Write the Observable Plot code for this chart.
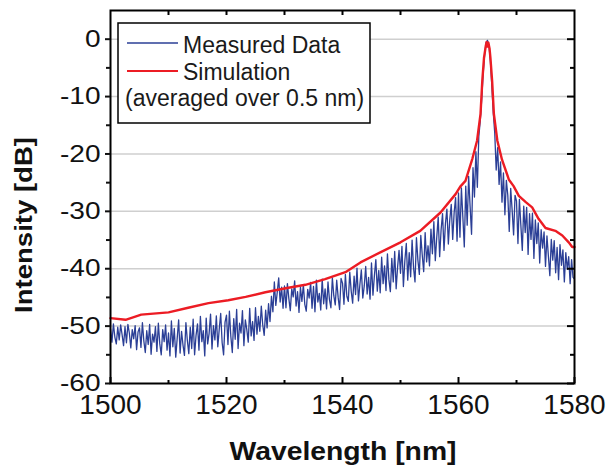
<!DOCTYPE html>
<html><head><meta charset="utf-8">
<script src="https://cdn.jsdelivr.net/npm/d3@7"></script>
<script src="https://cdn.jsdelivr.net/npm/@observablehq/plot@0.6"></script>
<style>body{margin:0;background:#fff} #chart svg{display:block}</style>
</head><body><div id="chart"></div>
<script>
// Measured spectrum, sampled every 0.25 nm starting at 1500 nm
const measStart = 1500, measStep = 0.25;
const measuredDb = [
 -50.5,-52.8,-49.6,-51.9,-53.1,-50.2,-52.4,-49.8,-51.5,-53.4,-50.1,-52.9,-49.7,-51.2,-53.8,-50.6,-52.2,-49.9,-54.1,-51.0,
 -50.3,-53.7,-49.4,-52.6,-54.6,-50.8,-53.2,-49.7,-54.9,-51.4,-52.8,-50.1,-54.4,-49.5,-53.1,-55.0,-50.6,-52.7,-49.8,-54.2,
 -51.2,-55.2,-49.1,-53.6,-50.4,-55.4,-52.1,-48.9,-54.7,-50.9,-53.3,-55.1,-49.4,-52.5,-54.8,-50.2,-53.9,-48.8,-55.0,-51.6,
 -49.6,-54.2,-48.3,-52.7,-50.8,-55.2,-48.6,-53.1,-51.3,-47.9,-54.0,-49.9,-52.4,-48.2,-53.6,-50.5,-47.8,-52.9,-55.0,-49.3,
 -48.1,-53.2,-47.4,-51.8,-54.6,-48.7,-52.3,-47.1,-53.9,-49.5,-51.2,-47.3,-53.4,-48.9,-50.6,-52.8,-46.9,-51.7,-49.2,-52.5,
 -46.8,-51.4,-48.3,-50.9,-46.5,-49.8,-51.6,-47.2,-50.3,-46.1,-49.2,-44.8,-47.5,-42.3,-46.4,-44.1,-41.6,-45.8,-43.2,-46.9,
 -43.0,-46.8,-42.6,-45.2,-47.3,-43.5,-44.9,-42.1,-46.5,-44.0,-47.6,-43.2,-45.7,-42.8,-46.2,-47.4,-43.6,-45.1,-42.4,-46.9,
 -43.1,-47.5,-42.0,-45.8,-44.3,-47.2,-41.8,-46.1,-43.5,-47.0,-42.3,-45.4,-46.8,-41.6,-44.7,-46.3,-42.0,-45.0,-47.1,-41.7,
 -42.5,-46.2,-41.0,-44.8,-45.7,-40.6,-43.9,-46.0,-41.3,-44.5,-39.9,-45.6,-42.7,-40.2,-45.1,-43.0,-39.6,-44.4,-41.5,-45.3,
 -39.0,-44.6,-41.2,-38.4,-43.9,-40.3,-44.2,-38.0,-42.6,-39.5,-43.8,-37.4,-41.9,-44.0,-38.2,-42.3,-37.0,-43.5,-39.7,-36.8,
 -40.8,-36.1,-43.1,-38.6,-35.6,-42.0,-37.2,-41.4,-35.0,-39.8,-42.3,-34.6,-38.5,-41.0,-34.2,-37.6,-40.5,-33.7,-38.8,-36.0,
 -39.5,-33.1,-37.4,-31.8,-38.6,-34.5,-31.0,-37.9,-33.2,-30.4,-36.8,-32.1,-29.6,-35.7,-31.4,-28.8,-34.9,-30.2,-27.6,-35.2,
 -26.8,-34.5,-25.9,-31.0,-36.2,-25.6,-32.4,-23.9,-29.1,-34.0,-22.4,-27.5,-19.6,-25.8,-17.0,-14.2,-10.5,-6.0,-2.8,-0.6,
 -0.2,-1.1,-3.8,-8.2,-12.9,-16.4,-22.8,-18.9,-25.3,-21.4,-28.4,-23.3,-30.6,-24.6,-27.2,-33.5,-26.0,-29.8,-34.1,-27.2,
 -28.2,-35.6,-27.9,-32.4,-36.8,-29.1,-33.7,-29.3,-37.5,-30.4,-34.9,-30.3,-38.2,-31.5,-35.6,-32.0,-39.0,-33.2,-36.4,-33.6,
 -39.6,-34.3,-37.8,-41.2,-34.9,-38.5,-35.1,-40.7,-36.3,-41.9,-35.8,-39.4,-36.7,-42.3,-37.2,-40.1,-37.9,-42.6,-38.4,-41.5,-41.8
];
// Simulation (averaged over 0.5 nm)
const simWavelength = [1500,1502.6,1505.3,1510,1513.4,1516.9,1520.3,1523.3,1526.7,1530.2,1533.6,1537,1540.5,1543.1,1546.6,1550,1553.4,1556.9,1559.5,1560.3,1561.2,1562.4,1563.2,1563.8,1564.1,1564.4,1564.7,1564.85,1565.0,1565.15,1565.35,1565.5,1565.8,1566.1,1566.7,1567.5,1568.7,1569.5,1570.4,1571.6,1572.7,1573.8,1575,1576.7,1577.9,1579,1579.6,1580];
const simDb = [-48.6,-48.9,-48.0,-47.6,-46.8,-46.0,-45.5,-44.9,-44.1,-43.4,-42.8,-41.8,-40.6,-38.9,-37.1,-35.4,-33.4,-30.2,-27.0,-25.7,-24.7,-20.8,-17.7,-13.0,-7.3,-3.2,-1.2,-0.5,-1.3,-0.6,-1.6,-3.2,-7.3,-13.0,-17.7,-21.0,-24.5,-25.6,-27.3,-28.4,-29.3,-31.3,-32.9,-33.4,-34.2,-35.4,-36.2,-36.2];

const xTickLabels = [1500,1520,1540,1560,1580];
const xMinorTicks = [1510,1530,1550,1570];
const xAllTicks = [1510,1520,1530,1540,1550,1560,1570];
const yTickLabels = [-60,-50,-40,-30,-20,-10,0];
const yMinorTicks = [-55,-45,-35,-25,-15,-5];
const gridValues = [-50,-40,-30,-20,-10,0];
const xTitle = "Wavelength [nm]";
const yTitle = "Intensity [dB]";
const legendLabels = ["Measured Data","Simulation","(averaged over 0.5 nm)"];
const blue = "#2b3f96", red = "#ec1c24";

const measured = measuredDb.map((v,i)=>({wl: measStart + i*measStep, db: v}));
const simulation = simWavelength.map((w,i)=>({wl: w, db: simDb[i]}));

const W=608, H=467, mL=110, mR=34, mT=10, mB=84;
const pw = W-mL-mR, ph = H-mT-mB;
const font = "'Liberation Sans', Arial, sans-serif";
const fmt = d => String(d);

const plot = Plot.plot({
  width: W, height: H, marginLeft: mL, marginRight: mR, marginTop: mT, marginBottom: mB,
  style: {fontFamily: font, color: "#111", background: "#fff"},
  x: {domain: [1500,1580]},
  y: {domain: [-60,5]},
  marks: [
    Plot.gridY(gridValues, {stroke:"#cfcfcf", strokeOpacity:1, strokeWidth:1.5}),
    Plot.line(measured, {x:"wl", y:"db", stroke:blue, strokeWidth:1.3}),
    Plot.line(simulation, {x:"wl", y:"db", stroke:red, strokeWidth:2.4}),
    Plot.frame({stroke:"#000", strokeWidth:2}),
    Plot.axisY(yTickLabels, {anchor:"left", tickSize:5, tickPadding:5, fontSize:24, strokeWidth:2, label:null, tickFormat: fmt}),
    Plot.axisY(yMinorTicks, {anchor:"left", tickSize:4, text:null, strokeWidth:2, label:null}),
    Plot.tickY(yTickLabels, {y:d=>d, insetLeft: pw-7, stroke:"#000", strokeWidth:2}),
    Plot.tickY(yMinorTicks, {y:d=>d, insetLeft: pw-4, stroke:"#000", strokeWidth:2}),
    Plot.axisX(xTickLabels, {anchor:"bottom", tickSize:0, tickPadding:11, fontSize:28, label:null, tickFormat: fmt}),
    Plot.tickX(xTickLabels, {x:d=>d, insetTop: ph-6, stroke:"#000", strokeWidth:2}),
    Plot.tickX(xMinorTicks, {x:d=>d, insetTop: ph-3, stroke:"#000", strokeWidth:2}),
    Plot.tickX(xAllTicks, {x:d=>d, insetBottom: ph-5, stroke:"#000", strokeWidth:2})
  ]
});
document.getElementById("chart").appendChild(plot);
const svg = d3.select(plot);

// stretch y tick labels horizontally like the reference
svg.selectAll('g[aria-label="y-axis tick label"] text').each(function(){
  const l = this.getComputedTextLength();
  d3.select(this).attr("textLength", l*1.17).attr("lengthAdjust","spacingAndGlyphs");
});

// axis titles
svg.append("text").attr("x", 343).attr("y", 460).attr("text-anchor","middle")
  .attr("font-family", font).attr("font-size", 25).attr("font-weight","bold").attr("fill","#111")
  .attr("textLength", 227).attr("lengthAdjust","spacingAndGlyphs").text(xTitle);
svg.append("text").attr("transform","translate(32,225) rotate(-90)").attr("text-anchor","middle")
  .attr("font-family", font).attr("font-size", 24).attr("font-weight","bold").attr("fill","#111")
  .attr("textLength", 176).attr("lengthAdjust","spacingAndGlyphs").text(yTitle);

// legend
const lg = svg.append("g");
lg.append("rect").attr("x",118).attr("y",23).attr("width",252).attr("height",100)
  .attr("fill","#fff").attr("stroke","#000").attr("stroke-width",1.5);
lg.append("line").attr("x1",127).attr("x2",178).attr("y1",43).attr("y2",43).attr("stroke",blue).attr("stroke-width",1.5);
lg.append("line").attr("x1",127).attr("x2",178).attr("y1",71).attr("y2",71).attr("stroke",red).attr("stroke-width",2.2);
const lt = [[183,53],[183,80],[125,106]];
legendLabels.forEach((t,i)=>{
  lg.append("text").attr("x",lt[i][0]).attr("y",lt[i][1]).attr("font-family",font)
    .attr("text-anchor","start").attr("font-size",23).attr("fill","#1a1a1a").text(t);
});
</script>
</body></html>
